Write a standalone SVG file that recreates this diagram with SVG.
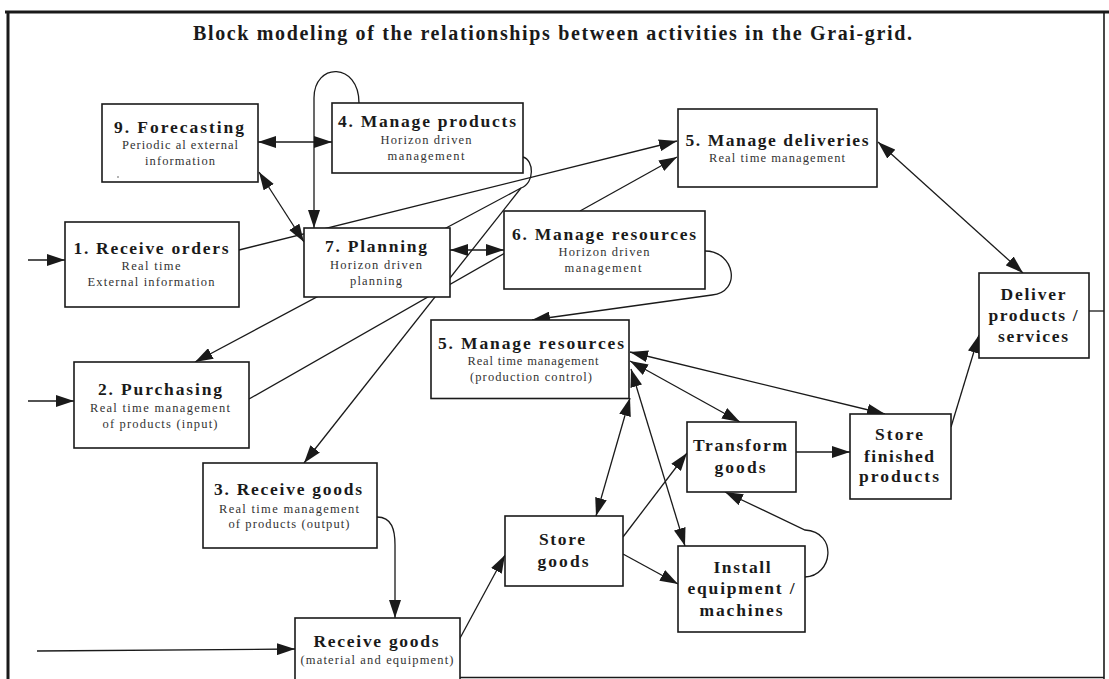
<svg xmlns="http://www.w3.org/2000/svg" width="1109" height="679" viewBox="0 0 1109 679">
<defs>
<marker id="ah" markerWidth="18" markerHeight="12" refX="18" refY="6" orient="auto-start-reverse" markerUnits="userSpaceOnUse">
<path d="M0,0 L18,6 L0,12 z" fill="#1a1a1a"/>
</marker>
<style>
.box{fill:#fff;stroke:#1a1a1a;stroke-width:1.6}
.c{fill:none;stroke:#1a1a1a;stroke-width:1.3}
.a{marker-end:url(#ah)}
.d{marker-start:url(#ah);marker-end:url(#ah)}
.t{font-family:"Liberation Serif","Times New Roman",serif;font-weight:bold;font-size:17.5px;fill:#1a1a1a;text-anchor:middle}
.s{font-family:"Liberation Serif","Times New Roman",serif;font-size:12.5px;fill:#333;text-anchor:middle}
.ti{font-family:"Liberation Serif","Times New Roman",serif;font-weight:bold;font-size:20px;fill:#1a1a1a}
.f{stroke:#1a1a1a;fill:none}
</style>
</defs>
<rect width="1109" height="679" fill="#fff"/>
<g id="frame">
<line class="f" x1="5" y1="12" x2="1109" y2="12" stroke-width="3"/>
<line class="f" x1="8" y1="12" x2="8" y2="679" stroke-width="3"/>
<line class="f" x1="1104" y1="12" x2="1104" y2="679" stroke-width="1.6"/>
<line class="f" x1="460" y1="677.5" x2="1104" y2="677.5" stroke-width="1.3" stroke="#555"/>
</g>
<text class="ti" x="193" y="40" textLength="719">Block modeling of the relationships between activities in the Grai-grid.</text>
<g id="connectors">
<path class="c a" d="M28,260 L65,260"/>
<path class="c a" d="M28,401 L74,401"/>
<path class="c a" d="M37,651 L295,649"/>
<path class="c d" d="M258,142 L332,142"/>
<path class="c d" d="M259,172 L304,242"/>
<path class="c a" d="M359,103 C359,62 314,62 314,98 L314,228"/>
<path class="c a" d="M239,250 L677,141"/>
<path class="c a" d="M580,211 L677,157"/>
<path class="c d" d="M450,250 L504,250"/>
<path class="c" d="M523,157 C534,160 535,183 521,188"/>
<path class="c a" d="M521,188 L195,362"/>
<path class="c a" d="M521,188 L304,463"/>
<path class="c" d="M505,253 L249,399"/>
<path class="c a" d="M705,251 C735,251 742,292 712,295 L532,320"/>
<path class="c d" d="M878,142 L1023,273"/>
<path class="c d" d="M630,352 L885,414"/>
<path class="c d" d="M630,361 L740,422"/>
<path class="c d" d="M630,398 L596,516"/>
<path class="c d" d="M631,369 L685,546"/>
<path class="c a" d="M796,452 L850,452"/>
<path class="c a" d="M951,427 L979,335"/>
<path class="c a" d="M623,537 L687,453"/>
<path class="c a" d="M623,554 L678,584"/>
<path class="c a" d="M805,577 C833,576 838,532 805,530 L725,492"/>
<path class="c a" d="M459,640 L505,555"/>
<path class="c a" d="M377,517 C392,517 395,530 395,545 L395,618"/>
<path class="c" d="M1089,311 L1104,311"/>
</g>
<g id="n9">
<rect class="box" x="102" y="104" width="156" height="78"/>
<text class="t" x="179" y="133" textLength="130">9. Forecasting</text>
<text class="s" x="180" y="148.5" textLength="116">Periodic al external</text>
<text class="s" x="180" y="164.5" textLength="70">information</text>
<circle cx="118" cy="177" r="0.8" fill="#555"/>
</g>
<g id="n4">
<rect class="box" x="332" y="103" width="191" height="70"/>
<text class="t" x="427" y="127" textLength="178">4. Manage products</text>
<text class="s" x="426" y="143.5" textLength="91">Horizon driven</text>
<text class="s" x="426" y="159.5" textLength="77">management</text>
</g>
<g id="n5d">
<rect class="box" x="678" y="109" width="199" height="78"/>
<text class="t" x="777" y="146" textLength="183">5. Manage deliveries</text>
<text class="s" x="777" y="162" textLength="136">Real time management</text>
</g>
<g id="n1">
<rect class="box" x="65" y="222" width="174" height="85"/>
<text class="t" x="151" y="253.5" textLength="155">1. Receive orders</text>
<text class="s" x="151" y="270" textLength="59">Real time</text>
<text class="s" x="151" y="285.5" textLength="127">External information</text>
</g>
<g id="n7">
<rect class="box" x="304" y="228" width="146" height="69"/>
<text class="t" x="376" y="251.5" textLength="102">7. Planning</text>
<text class="s" x="376" y="269" textLength="92">Horizon driven</text>
<text class="s" x="376" y="285" textLength="52">planning</text>
</g>
<g id="n6">
<rect class="box" x="504" y="211" width="201" height="78"/>
<text class="t" x="604" y="240" textLength="184">6. Manage resources</text>
<text class="s" x="604" y="255.5" textLength="91">Horizon driven</text>
<text class="s" x="603" y="271.5" textLength="77">management</text>
</g>
<g id="ndeliver">
<rect class="box" x="979" y="273" width="110" height="85"/>
<text class="t" x="1033" y="299.5" textLength="65">Deliver</text>
<text class="t" x="1033" y="321" textLength="89">products /</text>
<text class="t" x="1033" y="342" textLength="70">services</text>
</g>
<g id="n5r">
<rect class="box" x="431" y="320" width="198" height="78.5"/>
<text class="t" x="531" y="348.5" textLength="186">5. Manage resources</text>
<text class="s" x="533" y="365" textLength="131">Real time management</text>
<text class="s" x="531" y="381" textLength="122">(production control)</text>
</g>
<g id="n2">
<rect class="box" x="74" y="362" width="175" height="86"/>
<text class="t" x="160" y="395" textLength="124">2. Purchasing</text>
<text class="s" x="160" y="411.5" textLength="140">Real time management</text>
<text class="s" x="160" y="427.5" textLength="115">of products (input)</text>
</g>
<g id="n3">
<rect class="box" x="203" y="463" width="174" height="85"/>
<text class="t" x="288" y="495" textLength="148">3. Receive goods</text>
<text class="s" x="289" y="512.5" textLength="140">Real time management</text>
<text class="s" x="289" y="528" textLength="121">of products (output)</text>
</g>
<g id="ntransform">
<rect class="box" x="687" y="422" width="109" height="70"/>
<text class="t" x="740" y="451" textLength="94">Transform</text>
<text class="t" x="740" y="473" textLength="51">goods</text>
</g>
<g id="nfinished">
<rect class="box" x="850" y="414" width="101" height="85"/>
<text class="t" x="899" y="440" textLength="48">Store</text>
<text class="t" x="899" y="461.5" textLength="70">finished</text>
<text class="t" x="899" y="482" textLength="80">products</text>
</g>
<g id="nstore">
<rect class="box" x="505" y="516" width="118" height="70"/>
<text class="t" x="562" y="545" textLength="46">Store</text>
<text class="t" x="563" y="566.5" textLength="51">goods</text>
</g>
<g id="ninstall">
<rect class="box" x="678" y="546" width="127" height="86"/>
<text class="t" x="742" y="572.5" textLength="57">Install</text>
<text class="t" x="741" y="594" textLength="107">equipment /</text>
<text class="t" x="741" y="616" textLength="83">machines</text>
</g>
<g id="nreceive">
<rect class="box" x="295" y="618" width="165" height="70"/>
<text class="t" x="376" y="647" textLength="125">Receive goods</text>
<text class="s" x="377" y="663.5" textLength="153">(material and equipment)</text>
</g>
</svg>
